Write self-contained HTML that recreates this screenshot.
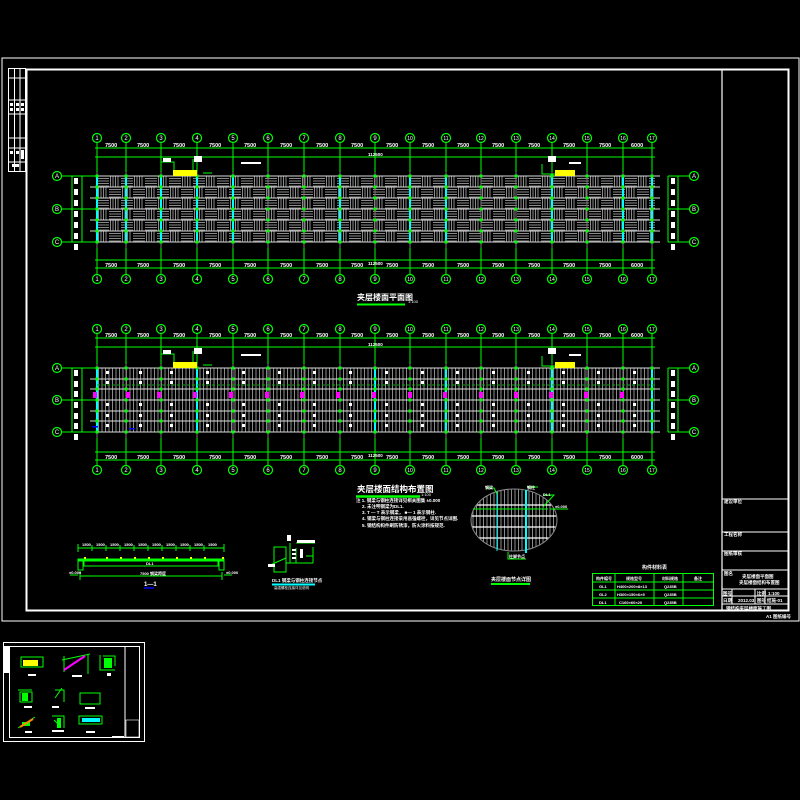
<!DOCTYPE html>
<html><head><meta charset="utf-8"><style>
html,body{margin:0;padding:0;background:#000;width:800px;height:800px;overflow:hidden}
svg{display:block}
text{font-family:"Liberation Sans","Noto Sans CJK SC",sans-serif;fill:#fff}
</style></head><body>
<svg id="s" width="800" height="800" viewBox="0 0 800 800" xmlns="http://www.w3.org/2000/svg">
<defs>
<pattern id="h1" width="24" height="22" patternUnits="userSpaceOnUse" x="97" y="176">
<rect width="24" height="22" fill="#000"/>
<g stroke="#8a8a8a" stroke-width="1">
<path d="M0 2.5H12M0 5H12M0 7.5H12M0 10H12"/>
<path d="M13.5 0V11M16 0V11M18.5 0V11M21 0V11"/>
<path d="M1.5 11V22M4 11V22M6.5 11V22M9 11V22"/>
<path d="M12 13.5H24M12 16H24M12 18.5H24M12 21H24"/>
</g></pattern>
<pattern id="h2" width="3.5" height="10" patternUnits="userSpaceOnUse" x="97" y="368">
<rect width="3.5" height="10" fill="#000"/><path d="M1.5 0V10" stroke="#8a8a8a" stroke-width="1"/></pattern>
<g id="ax" font-size="6" text-anchor="middle">
<g fill="#000" stroke="#0f0" stroke-width="1.2">
<circle cx="97" cy="0" r="4.5"/><circle cx="126" cy="0" r="4.5"/><circle cx="161" cy="0" r="4.5"/><circle cx="197" cy="0" r="4.5"/><circle cx="233" cy="0" r="4.5"/><circle cx="268" cy="0" r="4.5"/><circle cx="304" cy="0" r="4.5"/><circle cx="340" cy="0" r="4.5"/><circle cx="375" cy="0" r="4.5"/><circle cx="410" cy="0" r="4.5"/><circle cx="446" cy="0" r="4.5"/><circle cx="481" cy="0" r="4.5"/><circle cx="516" cy="0" r="4.5"/><circle cx="552" cy="0" r="4.5"/><circle cx="587" cy="0" r="4.5"/><circle cx="623" cy="0" r="4.5"/><circle cx="652" cy="0" r="4.5"/></g>
<text x="97" y="2.2">1</text><text x="126" y="2.2">2</text><text x="161" y="2.2">3</text><text x="197" y="2.2">4</text><text x="233" y="2.2">5</text><text x="268" y="2.2">6</text><text x="304" y="2.2">7</text><text x="340" y="2.2">8</text><text x="375" y="2.2">9</text><text x="410" y="2.2" font-size="5">10</text><text x="446" y="2.2" font-size="5">11</text><text x="481" y="2.2" font-size="5">12</text><text x="516" y="2.2" font-size="5">13</text><text x="552" y="2.2" font-size="5">14</text><text x="587" y="2.2" font-size="5">15</text><text x="623" y="2.2" font-size="5">16</text><text x="652" y="2.2" font-size="5">17</text>
</g>
<g id="dimt" font-size="5.5" font-weight="bold">
<text x="105" y="0">7500</text><text x="137" y="0">7500</text><text x="173" y="0">7500</text><text x="209" y="0">7500</text><text x="244" y="0">7500</text><text x="280" y="0">7500</text><text x="316" y="0">7500</text><text x="351" y="0">7500</text><text x="386" y="0">7500</text><text x="422" y="0">7500</text><text x="457" y="0">7500</text><text x="492" y="0">7500</text><text x="528" y="0">7500</text><text x="563" y="0">7500</text><text x="599" y="0">7500</text><text x="631" y="0">6000</text>
</g>
</defs>
<rect width="800" height="800" fill="#000"/>
<rect x="2" y="58" width="797" height="563" fill="none" stroke="#fff" stroke-width="1"/>
<rect x="26.5" y="69.5" width="762" height="541" fill="none" stroke="#fff" stroke-width="2"/>
<line x1="722" y1="70" x2="722" y2="610" stroke="#fff" stroke-width="1.2"/>
<g stroke="#fff" stroke-width="1" fill="none">
<rect x="8.5" y="68.5" width="17" height="103"/>
<path d="M14.5 68.5V171.5M20 68.5V171.5M8.5 78H25.5M8.5 100H25.5M8.5 114H25.5M8.5 138H25.5M8.5 148H25.5M8.5 162H25.5"/>
</g>
<g fill="#fff"><rect x="10" y="103" width="3" height="3"/><rect x="16" y="103" width="3" height="3"/><rect x="21" y="103" width="3" height="3"/><rect x="10" y="108" width="3" height="3"/><rect x="16" y="108" width="3" height="3"/><rect x="21" y="108" width="3" height="3"/><rect x="10" y="151" width="3" height="3"/><rect x="16" y="151" width="3" height="3"/><rect x="21" y="150" width="3" height="9"/><rect x="12" y="164" width="7" height="3"/></g>
<g id="dyn"></g>
<text x="357" y="300" font-size="8" font-weight="bold" fill="#fff">夹层楼面平面图</text><text x="408" y="303" font-size="4">1:100</text>
<line x1="357" y1="304.5" x2="405" y2="304.5" stroke="#0f0" stroke-width="2"/>
<text x="357" y="492" font-size="8.5" font-weight="bold">夹层楼面结构布置图</text><text x="421" y="496" font-size="4">1:100</text>
<line x1="356" y1="496.5" x2="420" y2="496.5" stroke="#0f0" stroke-width="2.5"/>
<g font-size="4.5" font-weight="bold">
<text x="356" y="502">注 1. 钢梁与钢柱连接详见相关图集 ±0.000</text>
<text x="362" y="508">2. 未注明钢梁为DL1.</text>
<text x="362" y="514">3. T  — T 表示钢梁，  ■— 1 表示钢柱.</text>
<text x="362" y="520">4. 钢梁与钢柱连接采用高强螺栓，详见节点详图.</text>
<text x="362" y="527">5. 钢结构构件刷防锈漆，防火涂料按规范.</text>
</g>
<g stroke="#0f0" stroke-width="1" fill="none">
<path d="M78 548H224M78 544V552M92 545V551M106 545V551M120 545V551M134 545V551M148 545V551M162 545V551M176 545V551M190 545V551M204 545V551M224 544V552"/>
<rect x="78" y="559" width="146" height="2" fill="#0f0"/>
<path d="M84 561V566H218V561M78 559V570H83V561M224 559V570H219V561"/>
<path d="M80 576H222M80 572V580M222 572V580M70 575H78M224 575H232"/>
</g>
<g fill="#ff0"><rect x="84" y="557" width="2" height="2"/><rect x="106" y="557" width="2" height="2"/><rect x="120" y="557" width="2" height="2"/><rect x="134" y="557" width="2" height="2"/><rect x="148" y="557" width="2" height="2"/><rect x="162" y="557" width="2" height="2"/><rect x="176" y="557" width="2" height="2"/><rect x="190" y="557" width="2" height="2"/><rect x="204" y="557" width="2" height="2"/><rect x="222" y="557" width="2" height="2"/></g>
<g font-size="4" font-weight="bold"><text x="82" y="546">1500</text><text x="96" y="546">1500</text><text x="110" y="546">1500</text><text x="124" y="546">1500</text><text x="138" y="546">1500</text><text x="152" y="546">1500</text><text x="166" y="546">1500</text><text x="180" y="546">1500</text><text x="194" y="546">1500</text><text x="208" y="546">1500</text><text x="146" y="565">DL1</text><text x="140" y="575">7500 钢梁跨度</text><text x="69" y="574">±0.000</text><text x="226" y="574">±0.000</text></g>
<text x="144" y="586" font-size="6" font-weight="bold">1—1</text>
<line x1="144" y1="588" x2="154" y2="588" stroke="#00f" stroke-width="1.5"/>
<g stroke="#0f0" stroke-width="1" fill="none">
<rect x="274" y="547" width="12" height="25"/><path d="M286 547V563H313M286 570V563M290 543V563M296 548V563M313 547V563M306 556H313M296 543H315"/>
<path d="M268 566L286 558"/>
</g>
<g fill="#fff"><rect x="292" y="549" width="4" height="2"/><rect x="292" y="553" width="4" height="2"/><rect x="292" y="557" width="4" height="2"/><rect x="300" y="549" width="3" height="9"/><rect x="297" y="540" width="18" height="3"/><rect x="287" y="535" width="4" height="6"/><rect x="268" y="564" width="7" height="3"/></g>
<text x="272" y="582" font-size="4.5" font-weight="bold">DL1 钢梁与钢柱连接节点</text>
<line x1="272" y1="584.5" x2="315" y2="584.5" stroke="#0ff" stroke-width="2"/>
<text x="274" y="589" font-size="3.5">高强螺栓连接详见说明</text>
<clipPath id="ec"><ellipse cx="514" cy="520" rx="43" ry="31"/></clipPath>
<g clip-path="url(#ec)"><rect x="470" y="488" width="88" height="64" fill="url(#h2)"/>
<g stroke="#fff" stroke-width="1.2"><path d="M470 505H560M470 516H560M470 527H560M470 538H560"/></g></g>
<ellipse cx="514" cy="520" rx="43" ry="31" fill="none" stroke="#888" stroke-width="1"/>
<g stroke="#0ff" stroke-width="1"><path d="M497 492V551"/></g><path d="M526 490V553" stroke="#0ff" stroke-width="2"/>
<g stroke="#0f0" stroke-width="1" fill="none"><path d="M473 509H548M486 488H494L497 494M527 487H538M543 495H554L543 507M550 509H568M508 552V559H526"/></g>
<g font-size="4" font-weight="bold"><text x="485" y="489">钢梁</text><text x="527" y="489">钢柱</text><text x="543" y="496">DL1</text><text x="555" y="508">±0.000</text><text x="509" y="558">柱脚节点</text></g>
<text x="491" y="581" font-size="5" font-weight="bold">夹层楼面节点详图</text>
<line x1="491" y1="584" x2="530" y2="584" stroke="#0f0" stroke-width="2"/>
<text x="642" y="569" font-size="5" font-weight="bold">构件材料表</text>
<g stroke="#0f0" stroke-width="1" fill="none"><rect x="592.5" y="573.5" width="121" height="32"/><path d="M592 582H714M592 590H714M592 598H714M615 573V606M654 573V606M683 573V606"/></g>
<g font-size="4" font-weight="bold"><text x="596" y="580">构件编号</text><text x="626" y="580">规格型号</text><text x="662" y="580">材料规格</text><text x="694" y="580">备注</text>
<text x="599" y="588">GL1</text><text x="617" y="588">H400×200×8×13</text><text x="664" y="588">Q235B</text>
<text x="599" y="596">GL2</text><text x="617" y="596">H300×150×6×9</text><text x="664" y="596">Q235B</text>
<text x="599" y="604">DL1</text><text x="619" y="604">C160×60×20</text><text x="664" y="604">Q235B</text></g>
<g stroke="#fff" stroke-width="1" fill="none"><path d="M722 499H789M722 532H789M722 551H789M722 570H789M722 589H789M722 596H789M722 604H789M732 589V604M755 589V604M765 589V604"/></g>
<g font-size="4.5" font-weight="bold"><text x="724" y="503">建设单位</text><text x="724" y="536">工程名称</text><text x="724" y="555">图纸审核</text><text x="724" y="575">图名</text><text x="742" y="578">夹层楼面平面图</text><text x="739" y="584">夹层楼面结构布置图</text>
<text x="723" y="595">图号</text><text x="757" y="595">比例</text><text x="768" y="595">1:100</text><text x="723" y="602">日期</text><text x="738" y="602">2012.03</text><text x="757" y="602">图号</text><text x="767" y="602">结施-01</text>
<text x="726" y="610">钢结构夹层楼面施工图</text><text x="766" y="618">A1 图纸编号</text></g>
<rect x="3.5" y="642.5" width="141" height="99" fill="none" stroke="#fff" stroke-width="1"/>
<rect x="9.5" y="646.5" width="130" height="91" fill="none" stroke="#fff" stroke-width="1"/>
<line x1="125" y1="647" x2="125" y2="737" stroke="#fff"/>
<rect x="4" y="646" width="5" height="27" fill="#fff"/>
<g stroke="#0f0" stroke-width="1" fill="none"><rect x="21" y="657" width="22" height="10"/><path d="M62 660L90 654M64 656V672M88 654V674M103 656H115V666"/><rect x="20" y="692" width="12" height="10"/><path d="M55 690H64V702M80 693H100V704H80Z"/><path d="M52 716H64V728M18 728L35 717"/><path d="M79 716H102V724H79Z"/><path d="M18 690H32M55 698L62 688M100 655V670H115M54 720L60 726"/></g>
<rect x="23" y="660" width="15" height="6" fill="#ff0"/><path d="M64 670L85 656" stroke="#f0f" stroke-width="2"/>
<g fill="#0f0"><rect x="104" y="658" width="8" height="10"/><rect x="22" y="693" width="6" height="8"/><rect x="57" y="718" width="4" height="10"/><rect x="22" y="722" width="8" height="4"/></g>
<g fill="#fff"><rect x="28" y="674" width="8" height="2"/><rect x="72" y="675" width="10" height="2"/><rect x="107" y="673" width="4" height="3"/><rect x="24" y="706" width="8" height="2"/><rect x="52" y="706" width="7" height="2"/><rect x="85" y="707" width="10" height="2"/><rect x="25" y="731" width="7" height="2"/><rect x="52" y="730" width="12" height="2"/><rect x="86" y="731" width="9" height="2"/><rect x="112" y="736" width="12" height="2"/><rect x="126" y="720" width="13" height="17" fill="none" stroke="#fff" stroke-width="0.6"/></g>
<path d="M20 727L33 719" stroke="#f80" stroke-width="2"/><rect x="82" y="718" width="18" height="4" fill="#0ff"/>
</svg>
<script>
(function(){
var NS="http://www.w3.org/2000/svg",g=document.getElementById("dyn");
function el(t,a){var e=document.createElementNS(NS,t);for(var k in a)e.setAttribute(k,a[k]);g.appendChild(e);return e;}
var X=[97,126,161,197,233,268,304,340,375,410,446,481,516,552,587,623,652];
function plan(top,bot,cyT,cyB,dT1,dT2,dB1,dB2,rows,pat,cy,lab){
 el("rect",{x:97,y:top,width:558,height:bot-top,fill:"url(#"+pat+")"});
 rows.forEach(function(y){el("line",{x1:90,y1:y,x2:660,y2:y,stroke:"#ddd","stroke-width":1});});
 X.forEach(function(x,i){
  el("line",{x1:x,y1:cyT+5,x2:x,y2:top-2,stroke:"#0f0","stroke-width":1});
  el("line",{x1:x,y1:bot+2,x2:x,y2:cyB-5,stroke:"#0f0","stroke-width":1});
  el("line",{x1:x,y1:top-4,x2:x,y2:bot+6,stroke:"#777","stroke-width":1});
  if(cy.indexOf(i)>=0)el("line",{x1:x,y1:top,x2:x,y2:bot,stroke:"#0ff","stroke-width":2});
  rows.forEach(function(y){el("rect",{x:x-1.5,y:y-1.5,width:3,height:3,fill:"#0f0"});});
 });
 [dT1,dT2,dB1,dB2].forEach(function(y){el("line",{x1:95,y1:y,x2:655,y2:y,stroke:"#0f0","stroke-width":1});});
 [[57,82,52],[694,668,700]].forEach(function(s){
  el("line",{x1:s[1],y1:rows[0],x2:s[1],y2:rows[rows.length-1],stroke:"#0f0"});
  el("line",{x1:s[1]+(s[0]<100?-10:10),y1:rows[0],x2:s[1]+(s[0]<100?-10:10),y2:rows[rows.length-1],stroke:"#0f0"});
  [rows[0],(rows[0]+rows[rows.length-1])/2,rows[rows.length-1]].forEach(function(y,j){
   el("line",{x1:Math.min(s[0],s[1]),y1:y,x2:Math.max(s[0],s[1])+(s[0]<100?15:0),y2:y,stroke:"#0f0"});
   el("circle",{cx:s[0],cy:y,r:4.5,fill:"#000",stroke:"#0f0","stroke-width":1.2});
   var t=el("text",{x:s[0],y:y+2,"font-size":6,"text-anchor":"middle"});t.textContent="ABC"[j];
  });
  for(var k=0;k<rows.length;k++){el("rect",{x:s[1]+(s[0]<100?-8:3),y:rows[k]+2,width:4,height:6,fill:"#fff"});}
 });
 el("use",{href:"#ax",y:cyT});el("use",{href:"#ax",y:cyB});
 el("use",{href:"#dimt",y:dT1-1});el("use",{href:"#dimt",y:dB2-1});
 var t=el("text",{x:368,y:dT2-1,"font-size":4.5,"font-weight":"bold"});t.textContent="112500";
 t=el("text",{x:368,y:dB1+5,"font-size":4.5,"font-weight":"bold"});t.textContent="112500";
 el("rect",{x:173,y:top-6,width:24,height:6,fill:"#ff0"});
 el("rect",{x:555,y:top-6,width:20,height:6,fill:"#ff0"});
 el("path",{d:"M161 "+(top-14)+"H174V"+(top-6)+"M193 "+(top-17)+"V"+(top-6)+"M203 "+(top-3)+"H212M542 "+(top-12)+"V"+(top-2)+"H555",stroke:"#0f0",fill:"none"});
 el("rect",{x:194,y:top-20,width:8,height:6,fill:"#fff"});el("rect",{x:548,y:top-20,width:8,height:6,fill:"#fff"});
 el("rect",{x:163,y:top-18,width:8,height:4,fill:"#fff"});el("rect",{x:241,y:top-14,width:20,height:2,fill:"#fff"});
 el("rect",{x:569,y:top-14,width:12,height:2,fill:"#fff"});
}
plan(176,242,138,279,148,157,260,268,[176,187,198,209,220,231,242],"h1",[0,1,2,3,4,7,9,10,13,15,16]);
plan(368,432,329,470,338,347,452,460,[368,379,389,400,411,421,432],"h2",[0,3,8,10,13,16]);
el("line",{x1:97,y1:385,x2:655,y2:385,stroke:"#0a0","stroke-dasharray":"3 2"});
[93,126,157,193,229,265,300,336,372,408,443,479,514,549,584,620].forEach(function(x){
 el("rect",{x:x,y:392,width:4,height:6,fill:"#f0f"});
 [371,381,403,414,424].forEach(function(y){el("rect",{x:x+13,y:y,width:3,height:3,fill:"#fff"});});
});
el("rect",{x:92,y:426,width:6,height:1.5,fill:"#00f"});el("rect",{x:129,y:428,width:6,height:1.5,fill:"#00f"});
})();
</script>
</body></html>
